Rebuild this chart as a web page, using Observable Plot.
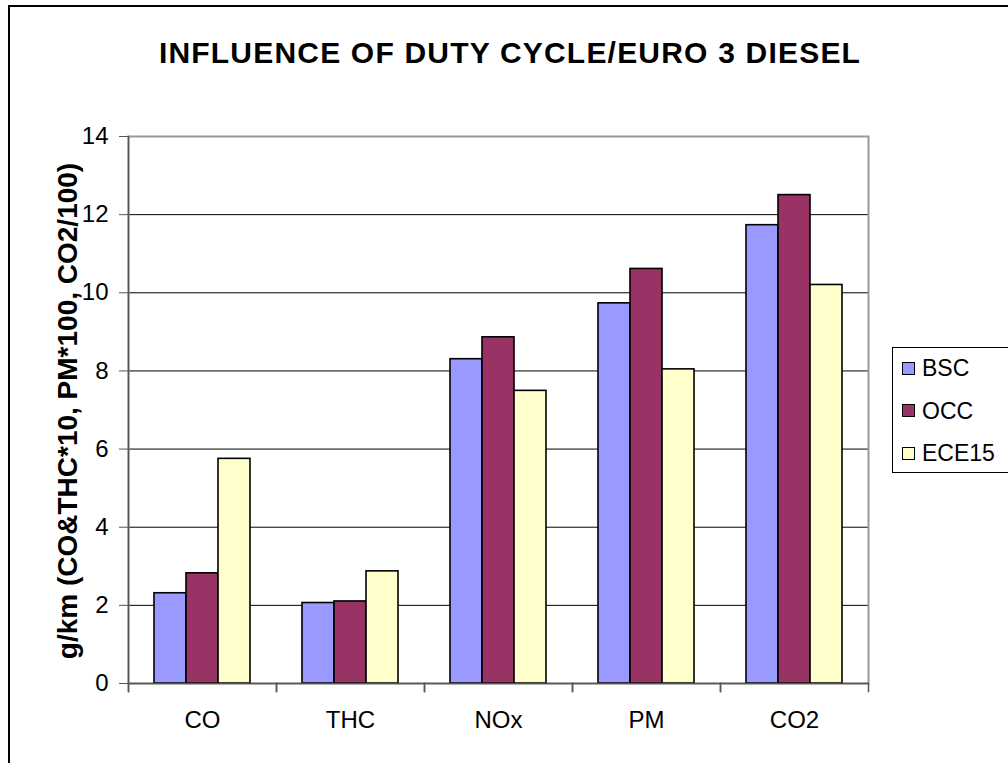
<!DOCTYPE html>
<html>
<head>
<meta charset="utf-8">
<script src="https://cdn.jsdelivr.net/npm/d3@7"></script>
<script src="https://cdn.jsdelivr.net/npm/@observablehq/plot@0.6"></script>
<style>
  html, body { margin: 0; padding: 0; background: #fff; }
  #wrap { position: relative; width: 1008px; height: 763px; overflow: hidden; font-family: "Liberation Sans", Arial, sans-serif; }
  #border { position: absolute; left: 8px; top: 5px; width: 1200px; height: 1000px; border: 2px solid #000; box-sizing: border-box; }
  #title { position: absolute; left: 0; top: 38px; width: 1020px; text-align: center; font-size: 30px; line-height: 30px; font-weight: bold; letter-spacing: 1.2px; color: #000; white-space: nowrap; }
  #ylabel { position: absolute; left: 68px; top: 411px; transform: translate(-50%, -50%) rotate(-90deg); font-size: 28px; line-height: 28px; font-weight: bold; white-space: nowrap; color: #000; }
  #chart { position: absolute; left: 0; top: 0; }
  #legend { position: absolute; left: 892px; top: 347px; width: 200px; height: 126px; border: 1px solid #000; box-sizing: border-box; background: #fff; }
  .item { position: absolute; left: 9px; height: 24px; display: flex; align-items: center; font-size: 23px; line-height: 24px; white-space: nowrap; }
  .sw { width: 11px; height: 11px; border: 1.5px solid #000; margin-right: 7px; }
</style>
</head>
<body>
<div id="wrap">
  <div id="border"></div>
  <div id="chart"></div>
  <div id="title"></div>
  <div id="ylabel"></div>
  <div id="legend"></div>
</div>
<script>
// ---- data ----
const titleText = "INFLUENCE OF DUTY CYCLE/EURO 3 DIESEL";
const yLabel = "g/km (CO&THC*10, PM*100, CO2/100)";
const categories = ["CO", "THC", "NOx", "PM", "CO2"];
const series = ["BSC", "OCC", "ECE15"];
const BSC = [2.31, 2.06, 8.30, 9.73, 11.73];
const OCC = [2.82, 2.10, 8.86, 10.61, 12.50];
const ECE15 = [5.75, 2.87, 7.49, 8.04, 10.20];
const colors = ["#9999FF", "#993366", "#FFFFCC"];
const yTicks = [0, 2, 4, 6, 8, 10, 12, 14];

const values = [BSC, OCC, ECE15];
const data = categories.flatMap((c, i) => series.map((s, j) => ({cat: c, series: s, value: values[j][i]})));

document.getElementById("title").textContent = titleText;
document.getElementById("ylabel").textContent = yLabel;

// ---- layout ----
const W = 1008, H = 763, mt = 136, mb = 80, ml = 126, mr = 138;
const plotH = H - mt - mb;

const chart = Plot.plot({
  width: W, height: H,
  marginTop: mt, marginBottom: mb, marginLeft: ml, marginRight: mr,
  style: {fontFamily: "'Liberation Sans', Arial, sans-serif", background: "transparent", color: "#000"},
  fx: {domain: categories, padding: 0, label: null},
  x: {domain: series, paddingInner: 0, paddingOuter: 0.76, axis: null},
  y: {domain: [0, 14], label: null},
  color: {domain: series, range: colors},
  marks: [
    Plot.gridY(yTicks, {stroke: "#000", strokeOpacity: 1, strokeWidth: 1}),
    Plot.frame({facet: "super", stroke: "#999", strokeWidth: 2}),
    Plot.barY(data, {fx: "cat", x: "series", y: "value", fill: "series", stroke: "#000", strokeWidth: 1.6}),
    Plot.ruleY([0], {stroke: "#555", strokeWidth: 1.5}),
    Plot.frame({facet: "super", anchor: "left", stroke: "#555", strokeWidth: 1.5, insetBottom: -8}),
    Plot.frame({anchor: "left", stroke: "#555", strokeWidth: 1.5, insetTop: plotH, insetBottom: -8}),
    Plot.frame({anchor: "right", stroke: "#555", strokeWidth: 1.5, insetTop: plotH, insetBottom: -8}),
    Plot.axisY(yTicks, {tickSize: 9, tickPadding: 11, fontSize: 24, stroke: "#555", label: null}),
    Plot.axisFx({anchor: "bottom", tickSize: 0, tickPadding: 27, fontSize: 24, label: null})
  ]
});
document.getElementById("chart").appendChild(chart);

// ---- legend ----
const legend = document.getElementById("legend");
series.forEach((s, j) => {
  const item = document.createElement("div");
  item.className = "item";
  item.style.top = (8 + j * 42.5) + "px";
  const sw = document.createElement("div");
  sw.className = "sw";
  sw.style.background = colors[j];
  const t = document.createElement("span");
  t.textContent = s;
  item.appendChild(sw);
  item.appendChild(t);
  legend.appendChild(item);
});
</script>
</body>
</html>
